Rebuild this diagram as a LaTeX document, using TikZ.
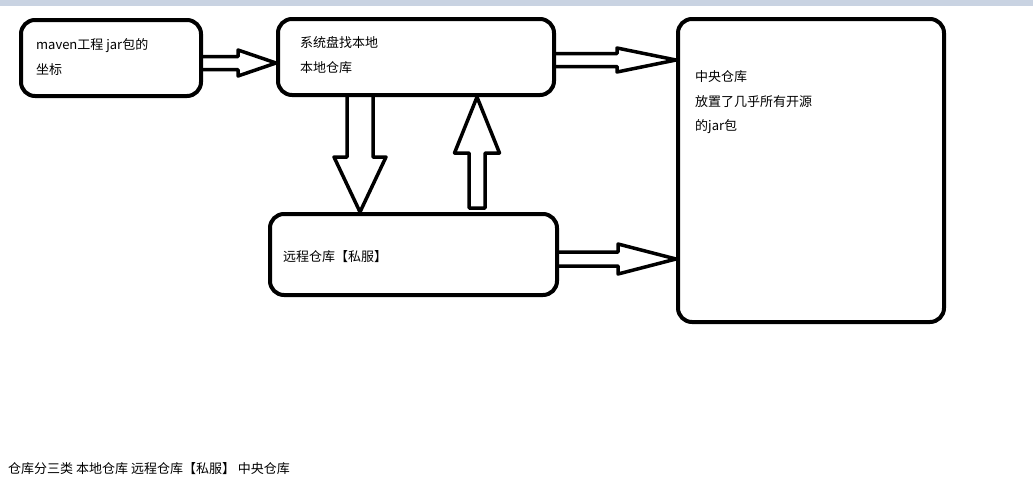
\documentclass[tikz,border=0pt]{standalone}
\usepackage{fontspec}
\setmainfont{Noto Sans CJK SC}
\usepackage{tikz}
\definecolor{leiste}{RGB}{201,211,226}
\usetikzlibrary{calc}

\begin{document}
\begin{tikzpicture}[x=1pt, y=-1pt,
					kasten/.style={draw, line width=4pt, rounded corners=14pt, inner sep=0pt},
					txt/.style={anchor=west, inner sep=0pt, align=left, font=\fontsize{13}{25}\selectfont},
					blockpfeil/.style={draw, line width=3.5pt, line join=round}]
					%Bildbereich
					\useasboundingbox (0,0) rectangle (1033,488);
					\fill[leiste] (0,0) rectangle (1033,6);
					% Kaesten zeichnen
					\node[kasten, minimum width=180pt, minimum height=76pt] (koord) at (111,58) {};
					\node[kasten, minimum width=276pt, minimum height=76pt] (lokal) at (416,57) {};
					\node[kasten, minimum width=287pt, minimum height=81pt] (remote) at (413.5,254.5) {};
					\node[kasten, minimum width=266pt, minimum height=303pt] (zentral) at (811,170.5) {};
					% Beschriftung
					\node[txt] (tkoord) at (36,57) {maven工程 jar包的\\坐标};
					\node[txt] (tlokal) at (300,55.5) {系统盘找本地\\本地仓库};
					\node[txt] (tremote) at (283,257) {远程仓库【私服】};
					\node[txt, font=\fontsize{13}{24.5}\selectfont] (tzentral) at (695,102.5) {中央仓库\\放置了几乎所有开源\\的jar包};
					\node[txt] (fuss) at (8,469) {仓库分三类 本地仓库 远程仓库【私服】 中央仓库};
					% Pfeilspitzen
					\coordinate (sKL) at (lokal.west |- 0,63);
					\coordinate (sLZ) at (zentral.west |- 0,60);
					\coordinate (sRZ) at (zentral.west |- 0,259);
					\coordinate (sLR) at (remote.north -| 360,0);
					\coordinate (sRL) at (lokal.south -| 477,0);
					% Pfeile zeichnen
					\draw[blockpfeil] let \p1=(koord.east), \p2=(sKL) in
						(\x1,\y2+6.5pt) -- (\x2-38pt,\y2+6.5pt) -- (\x2-38pt,\y2+13pt) -- (\p2)
						-- (\x2-38pt,\y2-13pt) -- (\x2-38pt,\y2-6.5pt) -- (\x1,\y2-6.5pt);
					\draw[blockpfeil] let \p1=(lokal.east), \p2=(sLZ) in
						(\x1,\y2+6.5pt) -- (\x2-59pt,\y2+6.5pt) -- (\x2-59pt,\y2+12pt) -- (\p2)
						-- (\x2-59pt,\y2-12pt) -- (\x2-59pt,\y2-6.5pt) -- (\x1,\y2-6.5pt);
					\draw[blockpfeil] let \p1=(remote.east), \p2=(sRZ) in
						(\x1,\y2+7pt) -- (\x2-58pt,\y2+7pt) -- (\x2-58pt,\y2+15pt) -- (\p2)
						-- (\x2-58pt,\y2-15pt) -- (\x2-58pt,\y2-7pt) -- (\x1,\y2-7pt);
					\draw[blockpfeil] let \p1=(lokal.south), \p2=(sLR) in
						(\x2-13pt,\y1) -- (\x2-13pt,\y2+55pt) -- (\x2-26pt,\y2+55pt) -- (\p2)
						-- (\x2+26pt,\y2+55pt) -- (\x2+13pt,\y2+55pt) -- (\x2+13pt,\y1);
					\draw[blockpfeil] let \p1=(remote.north), \p2=(sRL) in
						(\x2-8pt,\y1+4pt) -- (\x2-8pt,\y2-56pt) -- (\x2-22.5pt,\y2-56pt) -- (\p2)
						-- (\x2+22.5pt,\y2-56pt) -- (\x2+8pt,\y2-56pt) -- (\x2+8pt,\y1+4pt) -- cycle;
				\end{tikzpicture}
\end{document}
